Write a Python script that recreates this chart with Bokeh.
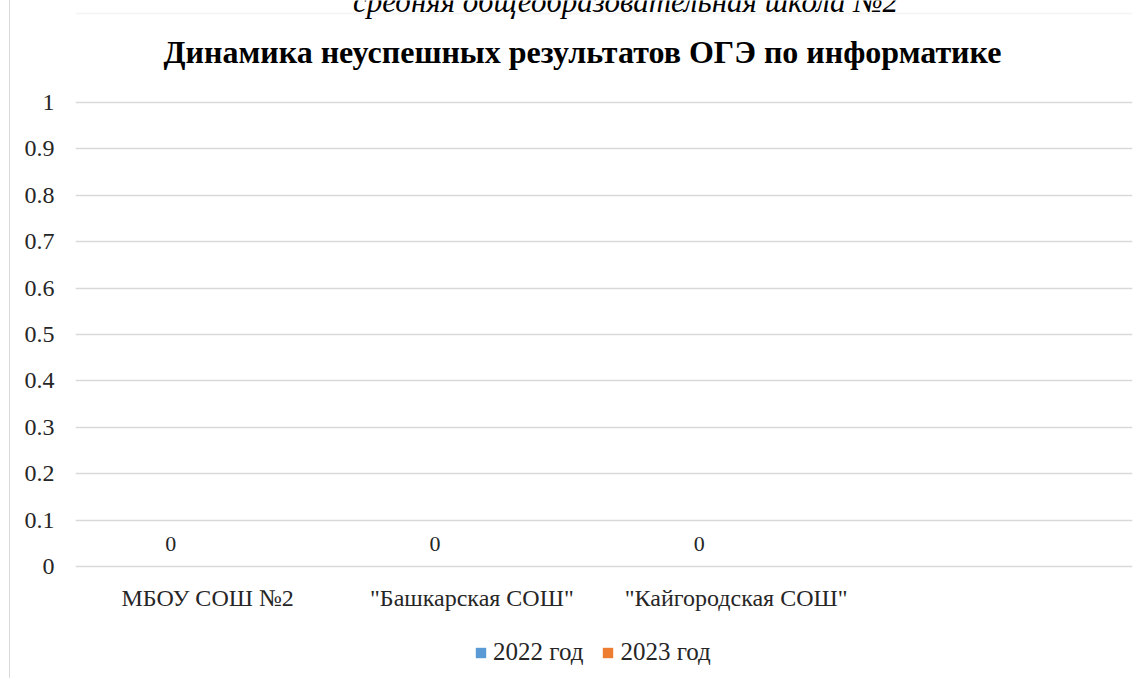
from bokeh.plotting import figure
from bokeh.models import (FactorRange, Range1d, ColumnDataSource, Label, Legend, LegendItem,
                          FixedTicker, BoxAnnotation)
from bokeh.transform import dodge
from bokeh.core.properties import value
from bokeh.embed import file_html
from bokeh.resources import INLINE

# ---- data ----
categories = ['МБОУ СОШ №2', '"Башкарская СОШ"', '"Кайгородская СОШ"', ' ']
series_names = ['2022 год', '2023 год']
values_2022 = [0, 0, 0, float('nan')]
values_2023 = [float('nan'), float('nan'), float('nan'), float('nan')]
y_ticks = [0, 0.1, 0.2, 0.3, 0.4, 0.5, 0.6, 0.7, 0.8, 0.9, 1]
y_tick_labels = ['0', '0.1', '0.2', '0.3', '0.4', '0.5', '0.6', '0.7', '0.8', '0.9', '1']
chart_title = 'Динамика неуспешных результатов ОГЭ по информатике'
page_caption = 'средняя общеобразовательная школа №2'
colors = ['#5B9BD5', '#ED7D31']

SERIF = 'Liberation Serif'
TXT = '#262626'

# layout (page pixels); the figure sits 10px from the page's left edge (9px margin + 1px border)
X0 = 10
W, H = 1148 - X0, 678
PLOT_LEFT, PLOT_RIGHT = 75, 1132
Y_TOP_PX, Y_ZERO_PX = 102, 566
px_per_unit = (Y_ZERO_PX - Y_TOP_PX) / 1.0
y_end = 1 + Y_TOP_PX / px_per_unit            # drawing area reaches the canvas top
y_start = -(H - Y_ZERO_PX) / px_per_unit       # ... and the canvas bottom

p = figure(width=W, height=H, x_range=FactorRange(*categories), y_range=Range1d(y_start, y_end),
           output_backend="svg", toolbar_location=None,
           min_border_left=PLOT_LEFT - X0, min_border_right=W - (PLOT_RIGHT - X0),
           min_border_top=0, min_border_bottom=0)
p.styles = {"margin-left": "9px", "border-left": "1px solid #d9d9d9"}
p.outline_line_color = None
p.background_fill_color = "white"
p.border_fill_color = "white"
p.xaxis.visible = False

# top edge of the chart-object border
p.add_layout(BoxAnnotation(left=-5, right=3000, top=13, bottom=3000,
                           left_units='canvas', right_units='canvas',
                           top_units='canvas', bottom_units='canvas',
                           fill_alpha=0, line_color='#d9d9d9', line_width=1.5,
                           level='underlay'))

src = ColumnDataSource(dict(cat=categories, v2022=values_2022, v2023=values_2023))
r1 = p.vbar(x=dodge('cat', -0.14, range=p.x_range), top='v2022', bottom=0, width=0.24,
            source=src, fill_color=colors[0], line_color=None)
r2 = p.vbar(x=dodge('cat', 0.14, range=p.x_range), top='v2023', bottom=0, width=0.24,
            source=src, fill_color=colors[1], line_color=None)

# data labels
lab_src = ColumnDataSource(dict(cat=categories[:3], y=values_2022[:3],
                                txt=[str(int(v)) for v in values_2022[:3]]))
p.text(x=dodge('cat', -0.14, range=p.x_range), y='y', text='txt', source=lab_src,
       text_font=value(SERIF), text_font_size='22px', text_color=TXT,
       text_align='center', text_baseline='middle', y_offset=-23)

# category labels under the zero line
cat_src = ColumnDataSource(dict(cat=categories, y=[0] * len(categories)))
p.text(x='cat', y='y', text='cat', source=cat_src,
       text_font=value(SERIF), text_font_size='24px', text_color=TXT,
       text_align='center', text_baseline='middle', y_offset=31)

# value axis
p.xgrid.visible = False
p.ygrid.grid_line_color = '#d9d9d9'
p.ygrid.grid_line_width = 1.5
p.yaxis.ticker = FixedTicker(ticks=y_ticks)
p.yaxis.major_label_overrides = {t: l for t, l in zip(y_ticks, y_tick_labels)}
ax = p.yaxis[0]
ax.axis_line_color = None
ax.major_tick_line_color = None
ax.minor_tick_line_color = None
ax.major_label_text_font = SERIF
ax.major_label_text_font_size = '24px'
ax.major_label_text_color = TXT
ax.major_label_standoff = 15

# legend
legend = Legend(items=[LegendItem(label=series_names[0], renderers=[r1]),
                       LegendItem(label=series_names[1], renderers=[r2])],
                orientation='horizontal', location=(474 - PLOT_LEFT, 12),
                border_line_alpha=0, background_fill_alpha=0, padding=0, margin=0,
                spacing=18, label_standoff=6, glyph_width=13, glyph_height=13,
                label_text_font=SERIF, label_text_font_size='25px', label_text_color=TXT)
p.add_layout(legend)

# title and the cut-off document caption (canvas units)
p.add_layout(Label(x=624 - X0, y=1, x_units='canvas', y_units='canvas', text=page_caption,
                   text_font=SERIF, text_font_size='31px', text_font_style='italic',
                   text_color='black', text_align='center', text_baseline='alphabetic'))
p.add_layout(Label(x=581 - X0, y=51, x_units='canvas', y_units='canvas', text=chart_title,
                   text_font=SERIF, text_font_size='32px', text_font_style='bold',
                   text_color='black', text_align='center', text_baseline='alphabetic'))

open("out.html", "w").write(file_html(p, INLINE))
